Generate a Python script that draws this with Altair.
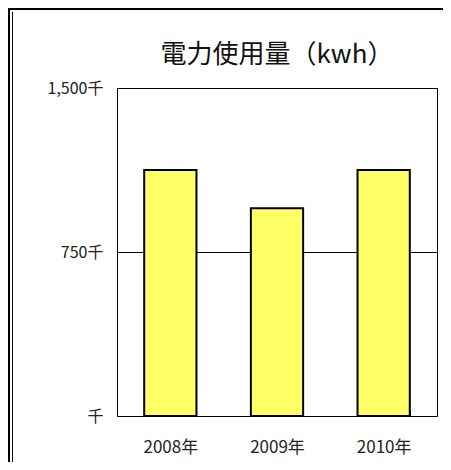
import altair as alt
import pandas as pd

years = ["2008年", "2009年", "2010年"]
usage_thousand = [1125, 950, 1125]
y_ticks = [0, 750, 1500]
title_text = ["電力使用量（kwh）"]

df = pd.DataFrame({"year": years, "usage": usage_thousand})
df_title = pd.DataFrame({"t": title_text})

W, H = 320, 328
PL, PT = 109, 80
FONT = "Noto Sans CJK JP"

base = alt.Chart(df)

bars = base.mark_bar(fill="#FFFF66", stroke="#000000", strokeWidth=2).encode(
    x=alt.X(
        "year:N",
        sort=years,
        title=None,
        scale=alt.Scale(paddingInner=0.51, paddingOuter=0.255),
        axis=alt.Axis(
            labelAngle=0,
            domain=False,
            ticks=True,
            tickBand="extent",
            tickSize=6,
            tickColor="#000000",
            tickWidth=1,
            offset=-6,
            labelPadding=23,
            labelFont=FONT,
            labelFontSize=17,
            labelColor="#222222",
        ),
    ),
    y=alt.Y(
        "usage:Q",
        title=None,
        scale=alt.Scale(domain=[0, 1500], nice=False),
        axis=alt.Axis(
            values=y_ticks,
            grid=True,
            gridColor="#000000",
            gridWidth=1,
            gridOpacity=1,
            ticks=False,
            domain=False,
            labelPadding=14,
            labelFont=FONT,
            labelFontSize=16,
            labelColor="#222222",
            labelExpr="datum.value == 0 ? '千' : format(datum.value, ',') + '千'",
        ),
    ),
)

title = alt.Chart(df_title).mark_text(
    font=FONT, fontSize=26, color="#111111", align="center", baseline="middle"
).encode(text="t:N", x=alt.value(W / 2), y=alt.value(-33))

frame_one = alt.Chart(df_title)
# Outer frame lines (decorative)
frame_left_outer = frame_one.mark_rule(color="#000000", strokeWidth=2).encode(
    x=alt.value(-PL + 1), y=alt.value(-PT + 1), y2=alt.value(H + 60)
)
frame_left_inner = frame_one.mark_rule(color="#111111", strokeWidth=1).encode(
    x=alt.value(-PL + 4.5), y=alt.value(-PT + 4), y2=alt.value(H + 60)
)
frame_top = frame_one.mark_rule(color="#000000", strokeWidth=2).encode(
    x=alt.value(-PL), x2=alt.value(W + 10), y=alt.value(-PT + 1)
)

chart = (
    alt.layer(bars, title, frame_left_outer, frame_left_inner, frame_top)
    .properties(
        width=W,
        height=H,
        autosize=alt.AutoSizeParams(type="none"),
        padding={"left": PL, "top": PT, "right": 6, "bottom": 46},
        background="white",
    )
    .configure_view(stroke="#000000", strokeWidth=1)
)

chart.save("out.html", embed_options={"renderer": "svg", "actions": False})
